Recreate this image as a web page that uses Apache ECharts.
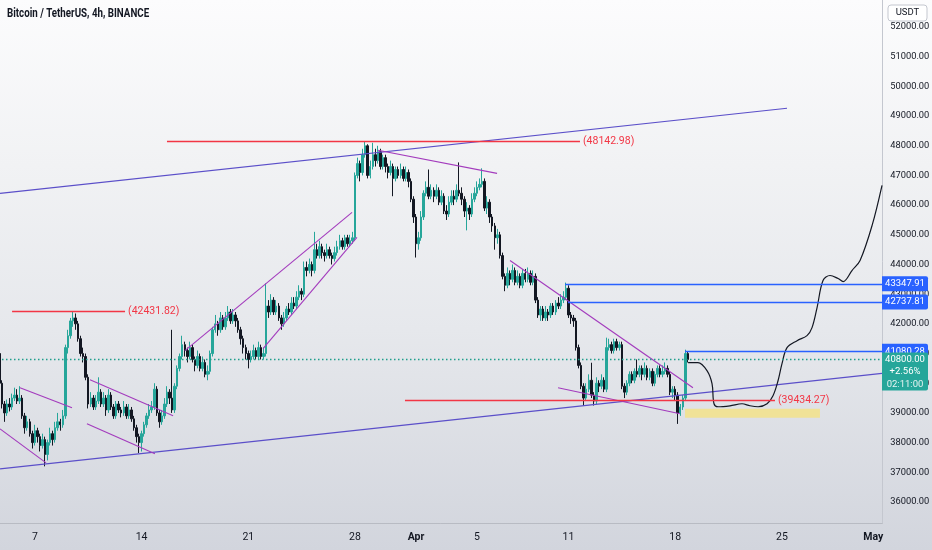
<!DOCTYPE html>
<html>
<head>
<meta charset="utf-8">
<script src="https://cdn.jsdelivr.net/npm/echarts@6/dist/echarts.min.js"></script>
<style>
html,body{margin:0;padding:0;}
#chart{width:932px;height:550px;background:linear-gradient(to bottom,#fcfcfd 0%,#f1f2f4 30%,#e6e8ec 60%,#d2d5dd 100%);}
</style>
</head>
<body>
<div id="chart"></div>
<script>
// ---------- data (BTC/USDT 4h) ----------
const firstOpen = 41000;
const closes = [
40000,39300,39000,39300,39200,39500,39600,39400,39500,38900,
38500,38700,38300,38000,38400,38200,37900,38100,37600,38000,
38300,38100,38500,38700,38600,38900,41200,41600,42100,42200,
42000,41500,41000,40900,40200,39300,39500,39200,39400,39700,
39300,39500,39100,39600,39200,38900,39300,39100,39000,39200,
38900,39100,38800,38500,38200,38000,38300,38600,38900,39100,
39200,39800,39000,38700,38900,39300,39700,39500,39100,39900,
40500,40900,41300,41100,40900,41200,40800,40600,40900,40500,
40700,40300,40400,41000,41800,42000,41800,42200,41900,42200,
42400,42100,42300,42100,41800,41500,41200,41000,40800,40900,
41100,40900,41200,40900,41000,42600,42400,42800,42400,42600,
42200,42000,42200,42500,42400,42700,42600,42900,43100,43000,
43900,43800,44000,43800,44500,44300,44600,44400,44300,44500,
44300,44200,44400,44600,44800,44600,44900,44700,44800,44900,
47000,47400,47100,47700,48000,47000,47300,47700,47500,47800,
47300,47600,47300,47100,47300,46900,47200,47000,47200,46900,
47100,46800,46200,45600,44700,44900,45600,46400,46600,46300,
46500,46300,46500,46100,46300,45800,45700,46100,46300,46200,
46500,46400,46200,45800,45900,45700,46200,46400,46600,46700,
46800,45900,46100,45600,45300,44900,45000,44300,43600,43300,
43700,43500,43800,43400,43600,43300,43700,43500,43700,43400,
43600,42800,42300,42500,42200,42400,42300,42600,42400,42700,
42600,42800,42900,43200,42300,42200,42100,41200,40600,39900,
39500,39800,40100,39600,39400,40000,39900,40100,39800,41200,
41300,41100,41400,41200,41300,39900,39700,40000,40300,40100,
40400,40300,40500,40300,40500,40200,40400,40000,40300,40500,
40300,40400,40500,40300,39700,39800,39600,39000,39200,39500,
41000,40800];
const highs = [
41150,40100,39400,39450,39500,39650,39850,39800,39900,39600,
39000,38900,38800,38400,38600,38500,38300,38300,38200,38100,
38500,38400,38700,39000,38800,39100,41300,41800,42200,42432,
42350,42100,41600,41200,41000,40300,39700,39600,39600,40200,
39800,39700,39600,39800,39700,39300,39400,39400,39200,39400,
39300,39300,39200,38900,38600,38300,38400,38700,39000,39300,
39400,40000,39900,39100,39100,39500,39900,39800,41800,40000,
40600,41000,41600,41400,41200,41400,41300,40900,41100,41000,
40900,40800,40600,41100,41900,42300,42100,42400,42300,42400,
42600,42500,42500,42400,42200,41900,41600,41300,41100,41100,
41300,41200,41400,41300,41200,43360,42800,43000,42900,42800,
42700,42300,42400,42600,42700,42900,42900,43100,43300,43200,
44100,44100,44200,44100,45100,44700,44800,44700,44500,44700,
44600,44400,44600,44800,45000,44900,45000,45000,45000,45100,
47100,47600,47500,47900,48143,48050,47500,48100,47900,48000,
47900,47700,47700,47400,47500,47400,47300,47300,47400,47300,
47300,47200,46900,46300,45700,45100,45800,46500,46800,47200,
46700,46600,46700,46600,46500,46400,46000,46300,46500,46500,
46700,47440,46600,46300,46100,46000,46400,46600,46800,46900,
47240,46900,46300,46200,45700,45400,45200,45100,44400,43700,
43900,43800,44000,43900,43800,43700,43850,43850,43900,43800,
43800,43700,42900,42600,42600,42600,42500,42700,42700,42800,
42900,43000,43100,43390,43300,42400,42300,42200,41300,40700,
40000,40000,40300,40690,39700,40200,40100,40300,40200,41535,
41500,41400,41500,41500,41400,41400,40000,40100,40400,40400,
40500,40800,40600,40600,40700,40600,40500,40500,40400,40600,
40600,40600,40700,40600,40400,39900,39900,39700,39300,39600,
41130,41080];
const lows = [
39900,39150,38700,38900,39050,39100,39400,39300,39300,38800,
38300,38400,38200,37800,37900,38000,37700,37800,37200,37400,
37900,37900,38000,38400,38400,38500,38800,41000,41500,41900,
41800,41400,40900,40700,40100,39150,39200,39100,39100,39300,
39200,39200,38900,39000,39100,38800,38800,39000,38850,38900,
38800,38800,38700,38400,38000,37650,37700,38200,38500,38800,
39000,39100,38900,38500,38600,38800,39200,39300,39000,39000,
39800,40400,40800,40900,40700,40800,40700,40400,40500,40400,
40400,40200,40100,40300,40900,41700,41600,41700,41800,41800,
42100,42000,42000,41900,41700,41300,41000,40800,40500,40700,
40800,40800,40800,40800,40800,40900,42200,42300,42300,42300,
42100,41800,41900,42100,42300,42300,42500,42500,42800,42800,
42900,43600,43700,43600,43700,44200,44200,44200,44100,44200,
44200,44000,44100,44300,44500,44500,44500,44600,44600,44700,
44800,46900,46800,47000,47600,46900,46900,47200,47300,47400,
47200,47200,47100,46900,47000,46300,46800,46900,46900,46800,
46800,46600,46100,45400,44235,44500,44800,45500,46300,46200,
46200,46100,46200,46000,46000,45700,45500,45600,46000,46000,
46100,46300,46000,45600,45150,45500,45600,46100,46300,46500,
46600,45800,45700,45400,45100,44500,44700,44200,43500,43100,
43200,43300,43400,43300,43300,43200,43200,43400,43400,43300,
43300,42700,42200,42100,42100,42100,42100,42200,42300,42300,
42500,42500,42700,42800,42200,42000,41900,41100,40500,39800,
39240,39400,39700,39500,39250,39300,39700,39800,39700,39700,
41100,41000,41000,41100,41100,39800,39500,39600,39900,40000,
40000,40200,40200,40100,40200,40100,40100,39900,39900,40200,
40200,40200,40300,40200,39600,39500,39400,38630,38900,39100,
39400,40700];

// time axis: 4h slots, first slot 2022-03-04 16:00 UTC
const slotCount = 348;
const tickDates  = ['2022-03-07','2022-03-14','2022-03-21','2022-03-28','2022-04-01','2022-04-05','2022-04-11','2022-04-18','2022-04-25','2022-05-01'];
const tickLabels = ['7','14','21','28','Apr','5','11','18','25','May'];
const priceTicks = [36000,37000,38000,39000,40000,41000,42000,43000,44000,45000,46000,47000,48000,49000,50000,51000,52000];

// drawings, x in "day of March" (April 1 = 32), y in price
const channelUpper = [[4.80,46396],[56.42,49265]];
const channelLower = [[4.80,37114],[62.65,40331]];
const wedgeLines = [
  [[6.11,39848],[9.52,39173]],
  [[4.80,38464],[7.82,37316]],
  [[10.70,40118],[16.15,38903]],
  [[10.50,38633],[14.96,37620]],
  [[16.93,41097],[27.89,45755]],
  [[22.05,41164],[28.21,44911]],
  [[29.59,47848],[37.40,47071]],
  [[38.25,44135],[50.25,39849]],
  [[41.40,39849],[49.40,38971]]
];
const redLevels = [
  {value:48142.98, from:15.75, to:42.84},
  {value:42431.82, from:5.59,  to:13.00},
  {value:39434.27, from:31.36, to:55.63}
];
const blueLevels = [
  {value:43347.91, from:41.86},
  {value:42737.81, from:42.05},
  {value:41080.28, from:49.73}
];
const lastPrice = 40800.00;
const lastChange = '+2.56%';
const countdown = '02:11:00';
const zoneBox = {from:49.73, to:58.58, top:39139, bottom:38835};
const projection = [
  [49.93,40692],[50.58,40692],[51.17,40422],[51.50,39983],[51.63,39308],[51.89,39207],
  [52.68,39240],[53.47,39308],[53.99,39240],[54.52,39207],[55.11,39308],[55.50,39578],
  [55.83,40084],[56.09,40658],[56.42,41198],[57.08,41434],[57.73,41603],[58.06,41873],
  [58.39,42548],[58.78,43460],[59.24,43629],[59.77,43527],[60.10,43426],[60.68,43797],
  [61.21,44135],[62.00,45316],[62.65,46666]
];

// ---------- build ----------
const FONT = "Roboto,'Liberation Sans',sans-serif";
const startMs = Date.UTC(2022,2,4,16);
const pad = n => (n<10?'0':'')+n;
const categories = [];
for (let i=0;i<slotCount;i++){
  const t = new Date(startMs + i*4*3600*1000);
  categories.push(t.getUTCFullYear()+'-'+pad(t.getUTCMonth()+1)+'-'+pad(t.getUTCDate())+' '+pad(t.getUTCHours()));
}
const tickMap = {};
tickDates.forEach((d,k)=>{ tickMap[d+' 00'] = tickLabels[k]; });

const candleData = closes.map((c,i)=>[i===0?firstOpen:closes[i-1], c, lows[i], highs[i]]);
const dayMin = 4 + 2/3, dayMax = dayMin + slotCount/6;

const lineSeries = (data, color, extra) => Object.assign({
  type:'line', xAxisIndex:1, yAxisIndex:0, data, showSymbol:false, symbol:'none', color,
  silent:true, animation:false, lineStyle:{color, width:1.1, opacity:1}, itemStyle:{color}
}, extra||{});

// horizontal levels as markLines on an empty carrier series
const hLines = [];
hLines.push([
  {coord:[dayMin,lastPrice], lineStyle:{color:'#1f9e8c', width:1.4, type:[1.5,2.5]}, label:{show:false}},
  {coord:[dayMax,lastPrice]}
]);
redLevels.forEach(r=>hLines.push([
  {coord:[r.from,r.value], lineStyle:{color:'#f23645', width:1.4, type:'solid'},
   label:{show:true, position:'end', distance:3, formatter:'('+r.value.toFixed(2)+')', color:'#f23645', fontSize:10.5, fontFamily:FONT}},
  {coord:[r.to,r.value]}
]));
blueLevels.forEach(b=>hLines.push([
  {coord:[b.from,b.value], lineStyle:{color:'#2962ff', width:1.4, type:'solid'}, label:{show:false}},
  {coord:[dayMax,b.value]}
]));

const series = [
  {
    type:'candlestick', xAxisIndex:0, yAxisIndex:0, data:candleData, barWidth:'78%',
    animation:false, silent:true,
    itemStyle:{color:'#26a69a', color0:'#131722', borderColor:'#26a69a', borderColor0:'#131722', borderWidth:1}
  },
  lineSeries(channelUpper, '#5b4fc9'),
  lineSeries(channelLower, '#5b4fc9'),
  {type:'line', xAxisIndex:1, yAxisIndex:0, data:[], silent:true, animation:false,
   markLine:{silent:true, animation:false, symbol:['none','none'], precision:2, data:hLines}}
];
wedgeLines.forEach(l=>series.push(lineSeries(l,'#a33bbd')));
series.push(lineSeries(projection,'#131722',{smooth:0.35, lineStyle:{color:'#131722', width:1.2},
  markArea:{silent:true, itemStyle:{color:'rgba(247,226,120,0.72)'},
    data:[[{coord:[zoneBox.from,zoneBox.top]},{coord:[zoneBox.to,zoneBox.bottom]}]]}
}));

const chart = echarts.init(document.getElementById('chart'), null, {renderer:'canvas'});
chart.setOption({
  backgroundColor:'transparent',
  animation:false,
  grid:{left:-2, top:0, width:348*2.541, bottom:27, containLabel:false, outerBoundsMode:'none'},
  xAxis:[
    {type:'category', data:categories, boundaryGap:true, position:'bottom',
     axisLine:{show:true, lineStyle:{color:'#b8bbc3'}}, axisTick:{show:false}, splitLine:{show:false},
     axisLabel:{interval:(idx,val)=>tickMap[val]!==undefined,
       formatter:val=>{const s=tickMap[val]||''; return (s==='Apr'||s==='May')?'{b|'+s+'}':s;},
       color:'#131722', fontSize:10.5, fontFamily:FONT, margin:9,
       rich:{b:{fontWeight:'bold', fontSize:10.5, fontFamily:FONT, color:'#131722'}}}},
    {type:'value', min:dayMin, max:dayMax, show:false, position:'bottom'}
  ],
  yAxis:[{type:'value', position:'right', min:35291, max:52911,
    axisLine:{show:true, lineStyle:{color:'#c4c7cf'}}, axisTick:{show:false}, splitLine:{show:false},
    axisLabel:{customValues:priceTicks, formatter:v=>v.toFixed(2), color:'#131722', fontSize:9.3, fontFamily:FONT, margin:8}}],
  series
});

// price tags on the right scale, positioned through the axis scale
const gx = 882;
const py = v => chart.convertToPixel({yAxisIndex:0}, v);
const graphics = [
  {type:'text', x:7, y:14, scaleX:0.78, z:100, style:{text:'Bitcoin / TetherUS, 4h, BINANCE', fill:'#131722', font:"bold 12.5px "+FONT, verticalAlign:'middle'}},
  {type:'rect', z:100, shape:{x:888, y:5, width:39, height:16, r:3}, style:{fill:'#ffffff', stroke:'#c4c7cf', lineWidth:1}},
  {type:'text', z:101, x:907.5, y:13, style:{text:'USDT', fill:'#131722', font:"9.5px "+FONT, align:'center', verticalAlign:'middle'}}
];
blueLevels.slice().reverse().forEach(b=>{
  const y = py(b.value);
  graphics.push({type:'rect', z:100, shape:{x:gx, y:y-7.5, width:46, height:15, r:[0,2,2,0]}, style:{fill:'#2962ff'}});
  graphics.push({type:'text', z:101, x:gx+23, y:y, style:{text:b.value.toFixed(2), fill:'#ffffff', font:"9.5px "+FONT, align:'center', verticalAlign:'middle'}});
});
const ly = py(lastPrice);
graphics.push({type:'rect', z:102, shape:{x:gx, y:ly-7, width:46, height:38, r:[0,2,2,0]}, style:{fill:'#26a69a'}});
graphics.push({type:'text', z:103, x:gx+23, y:ly, style:{text:lastPrice.toFixed(2), fill:'#ffffff', font:"9.5px "+FONT, align:'center', verticalAlign:'middle'}});
graphics.push({type:'text', z:103, x:gx+23, y:ly+12.5, style:{text:lastChange, fill:'#ffffff', font:"9.5px "+FONT, align:'center', verticalAlign:'middle'}});
graphics.push({type:'text', z:103, x:gx+23, y:ly+25, style:{text:countdown, fill:'#e6f4f2', font:"9.5px "+FONT, align:'center', verticalAlign:'middle'}});
chart.setOption({graphic:graphics});
</script>
</body>
</html>
